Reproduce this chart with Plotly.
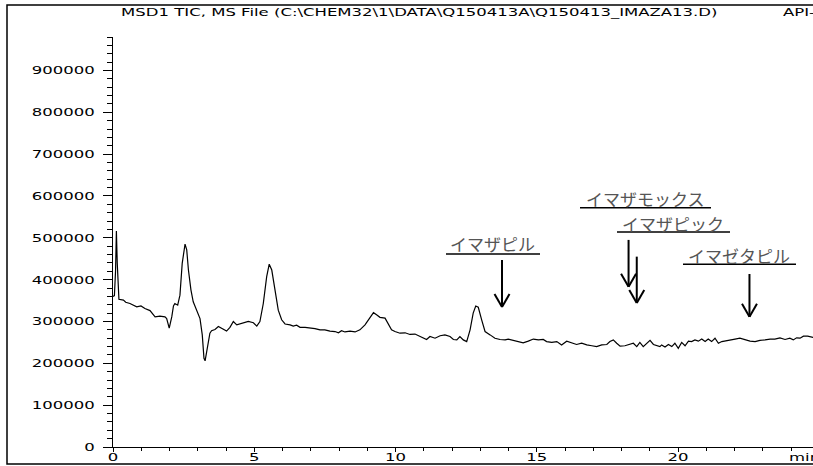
import plotly.graph_objects as go

# ---------------- data ----------------
time_min = [
    0.00, 0.05, 0.09, 0.12, 0.15, 0.19, 0.21, 0.37, 0.45, 0.60, 0.72, 0.84, 0.99, 1.13, 1.31,
    1.49, 1.66, 1.84, 1.90, 1.99, 2.08, 2.14, 2.19, 2.29, 2.37, 2.45, 2.55, 2.61, 2.67, 2.76,
    2.84, 2.96, 3.08, 3.16, 3.22, 3.26, 3.32, 3.37, 3.43, 3.49, 3.61, 3.73, 3.79, 3.91, 4.02,
    4.14, 4.26, 4.38, 4.50, 4.61, 4.79, 4.97, 5.09, 5.20, 5.32, 5.44, 5.53, 5.62, 5.73, 5.85,
    5.97, 6.09, 6.27, 6.38, 6.50, 6.62, 6.80, 6.97, 7.15, 7.33, 7.50, 7.68, 7.86, 7.98, 8.09,
    8.21, 8.39, 8.57, 8.74, 8.92, 9.10, 9.22, 9.33, 9.45, 9.63, 9.75, 9.86, 9.98, 10.16, 10.34,
    10.51, 10.69, 10.87, 10.98, 11.10, 11.22, 11.40, 11.58, 11.75, 11.93, 12.05, 12.17, 12.28,
    12.40, 12.52, 12.64, 12.75, 12.84, 12.93, 13.05, 13.17, 13.35, 13.52, 13.70, 13.88, 13.99,
    14.17, 14.35, 14.52, 14.70, 14.88, 15.06, 15.23, 15.35, 15.53, 15.71, 15.88, 16.06, 16.24,
    16.41, 16.59, 16.77, 16.95, 17.12, 17.30, 17.48, 17.59, 17.71, 17.83, 17.95, 18.12, 18.30,
    18.42, 18.54, 18.65, 18.77, 18.89, 19.01, 19.13, 19.25, 19.36, 19.42, 19.54, 19.66, 19.78,
    19.89, 20.01, 20.13, 20.25, 20.37, 20.48, 20.60, 20.72, 20.84, 20.96, 21.07, 21.19, 21.31,
    21.43, 21.55, 21.66, 21.84, 22.02, 22.19, 22.37, 22.55, 22.73, 22.90, 23.08, 23.26, 23.43,
    23.61, 23.79, 23.96, 24.08, 24.20, 24.32, 24.44, 24.59, 24.80, 25.00,
]
tic_k = [
    360, 362, 420, 516, 440, 356, 353, 351, 346, 343, 339, 335, 337, 331, 326,
    311, 313, 311, 307, 284, 311, 337, 343, 339, 363, 439, 485, 471, 423, 375,
    347, 327, 307, 268, 212, 206, 232, 256, 272, 278, 281, 288, 286, 280, 277,
    286, 300, 292, 294, 297, 300, 297, 289, 300, 343, 407, 437, 423, 375, 327,
    304, 294, 292, 289, 291, 286, 286, 285, 283, 280, 280, 277, 276, 273, 278,
    275, 277, 275, 280, 292, 308, 321, 316, 310, 308, 292, 280, 276, 272, 273,
    269, 270, 264, 260, 257, 264, 260, 266, 268, 264, 257, 256, 264,
    256, 252, 280, 320, 337, 334, 304, 276, 268, 260, 257, 256, 258,
    255, 252, 249, 253, 258, 256, 257, 252, 250, 252, 244, 253, 248,
    245, 248, 244, 242, 240, 244, 245, 252, 256, 248, 241, 242, 245,
    248, 240, 250, 240, 248, 255, 245, 243, 240, 244, 239, 245, 240,
    248, 236, 250, 242, 253, 252, 256, 253, 258, 252, 258, 252, 260,
    248, 252, 253, 256, 258, 260, 256, 253, 252, 255, 256, 258, 258,
    261, 257, 260, 256, 261, 260, 265, 265, 262, 263,
]
tic_counts = [v * 1000 for v in tic_k]

compound_names = ["イマザピル", "イマザモックス", "イマザピック", "イマゼタピル"]
compound_rt = [13.77, 18.25, 18.54, 22.53]          # arrow positions (min)
arrow_top = [447000, 495000, 455000, 413500]         # arrow start (counts)
arrow_tip = [334600, 383100, 344200, 311400]         # arrow tip (counts)

y_tick_vals = [0, 100000, 200000, 300000, 400000, 500000, 600000, 700000, 800000, 900000]
x_tick_vals = [0, 5, 10, 15, 20]

title_text = "MSD1 TIC, MS File (C:\\CHEM32\\1\\DATA\\Q150413A\\Q150413_IMAZA13.D)"
title_tail = "API-ES"
x_unit = "min"

# ---------------- geometry ----------------
W, H = 813, 466
ML, MR, MT, MB = 113, 0, 37, 19
PX_PER_MIN = 28.25
X_MAX = (W - ML - MR) / PX_PER_MIN
Y_MAX = 980000
PW, PH = W - ML - MR, H - MT - MB


def dx(px):   # pixel distance -> minutes
    return px / PX_PER_MIN


def dy(px):   # pixel distance -> counts
    return px * Y_MAX / PH


def t_of(px):
    return (px - ML) / PX_PER_MIN


def v_of(py):
    return (H - MB - py) * Y_MAX / PH


def paper_x(px):
    return (px - ML) / PW


def paper_y(py):
    return (H - MB - py) / PH


fig = go.Figure()
fig.add_trace(go.Scatter(x=time_min, y=tic_counts, mode="lines",
                         line=dict(color="black", width=1.2), hoverinfo="skip",
                         showlegend=False))

shapes = []
# frame around the whole print
shapes.append(dict(type="rect", xref="paper", yref="paper",
                   x0=paper_x(7), x1=paper_x(W + 20), y0=paper_y(464), y1=paper_y(5),
                   line=dict(color="black", width=1.5), fillcolor="rgba(0,0,0,0)", layer="above"))

# arrows
for rt, top, tip in zip(compound_rt, arrow_top, arrow_tip):
    shapes.append(dict(type="line", xref="x", yref="y", x0=rt, x1=rt, y0=top, y1=tip,
                       line=dict(color="black", width=2)))
    for s in (-1, 1):
        shapes.append(dict(type="line", xref="x", yref="y", x0=rt + s * dx(7.5), x1=rt,
                           y0=tip + dy(13), y1=tip, line=dict(color="black", width=2)))

# label placement (pixel positions from the print) and underlines
label_px = [(492.5, 243, 446, 540, 254),
            (645, 198, 580, 711, 207.7),
            (672.5, 223, 617, 730, 232),
            (739, 255, 683, 796, 264.3)]
annotations = []
for name, (cx, cy, ux0, ux1, uy) in zip(compound_names, label_px):
    annotations.append(dict(x=t_of(cx), y=v_of(cy), xref="x", yref="y", text=name,
                            showarrow=False, xanchor="center", yanchor="middle",
                            font=dict(family="Noto Sans CJK JP", size=17, color="#555555")))
    shapes.append(dict(type="line", xref="x", yref="y", x0=t_of(ux0), x1=t_of(ux1),
                       y0=v_of(uy), y1=v_of(uy), line=dict(color="black", width=1.5)))

hdr_font = dict(family="DejaVu Sans", size=11, color="black")
annotations.append(dict(x=paper_x(119), y=paper_y(12.5), xref="paper", yref="paper",
                        text=title_text, showarrow=False, xanchor="left", yanchor="middle",
                        font=hdr_font))
annotations.append(dict(x=paper_x(781), y=paper_y(12.5), xref="paper", yref="paper",
                        text=title_tail, showarrow=False, xanchor="left", yanchor="middle",
                        font=hdr_font))
annotations.append(dict(x=paper_x(787), y=paper_y(457), xref="paper", yref="paper",
                        text=x_unit, showarrow=False, xanchor="left", yanchor="middle",
                        font=hdr_font))

fig.update_layout(
    width=W, height=H,
    margin=dict(l=ML, r=MR, t=MT, b=MB, pad=0),
    paper_bgcolor="white", plot_bgcolor="white",
    shapes=shapes, annotations=annotations,
    font=dict(family="DejaVu Sans", size=11, color="black"),
    xaxis=dict(range=[0, X_MAX], showgrid=False, zeroline=False, showline=True,
               linecolor="black", linewidth=1, ticks="outside", ticklen=4, tickwidth=1,
               tickcolor="black", tickvals=x_tick_vals, ticktext=[str(v) for v in x_tick_vals],
               ticklabelstandoff=-4,
               minor=dict(dtick=1, ticks="outside", ticklen=3, tickcolor="black", showgrid=False),
               automargin=False, fixedrange=True),
    yaxis=dict(range=[0, Y_MAX], showgrid=False, zeroline=False, showline=True,
               linecolor="black", linewidth=1, ticks="outside", ticklen=9, tickwidth=1,
               tickcolor="black", tickvals=y_tick_vals, ticktext=[str(v) for v in y_tick_vals],
               ticklabelstandoff=6,
               minor=dict(tick0=0, dtick=20000, ticks="outside", ticklen=5, tickcolor="black",
                          showgrid=False),
               automargin=False, fixedrange=True),
)

# The print uses a horizontally stretched sans font; widen the Latin texts,
# and remove the default page margin so the figure sits at the window corner.
post = """
document.body.style.margin = '0';
var st = document.createElement('style');
st.textContent = 'g.ytick{transform-box:fill-box;transform-origin:100% 50%;transform:scaleX(1.5);}' +
                 'g.xtick{transform-box:fill-box;transform-origin:50% 50%;transform:scaleX(1.5);}';
document.head.appendChild(st);
var gd = document.getElementById('{plot_id}');
var els = gd.querySelectorAll('text.annotation-text');
for (var i = 0; i < els.length; i++) {
  var t = els[i].textContent;
  if (t.indexOf('MSD1') === 0 || t === 'API-ES' || t === 'min') {
    els[i].style.transformBox = 'fill-box';
    els[i].style.transformOrigin = '0% 50%';
    els[i].style.transform = 'scaleX(1.5)';
  }
}
"""

fig.write_html("out.html", post_script=post, config={"displayModeBar": False})
